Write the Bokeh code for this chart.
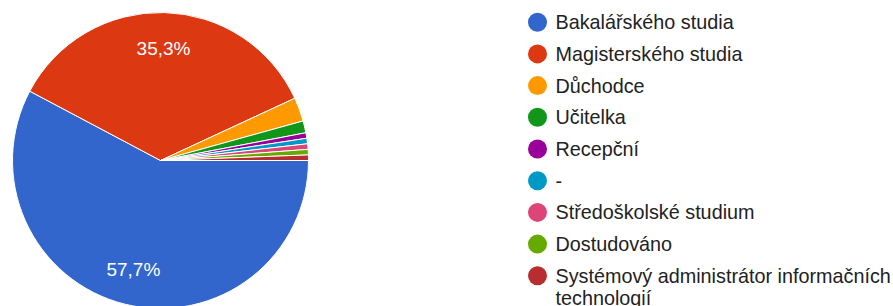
import math
from bokeh.plotting import figure
from bokeh.models import Range1d, ColumnDataSource
from bokeh.core.properties import value
from bokeh.embed import file_html
from bokeh.resources import INLINE

categories = ["Bakalářského studia", "Magisterského studia", "Důchodce", "Učitelka",
              "Recepční", "-", "Středoškolské studium", "Dostudováno",
              "Systémový administrátor informačních technologií"]
legend_lines = [["Bakalářského studia"], ["Magisterského studia"], ["Důchodce"], ["Učitelka"],
                ["Recepční"], ["-"], ["Středoškolské studium"], ["Dostudováno"],
                ["Systémový administrátor informačních", "technologií"]]
percent = [57.7, 35.3, 2.6, 1.3, 0.6, 0.6, 0.6, 0.6, 0.6]
colors = ["#3366cc", "#dc3912", "#ff9900", "#109618", "#990099",
          "#0099c6", "#dd4477", "#66aa00", "#b82e2e"]

W, H = 893, 306
p = figure(width=W, height=H, output_backend="svg", toolbar_location=None,
           x_range=Range1d(0, W), y_range=Range1d(-H, 0),
           min_border=0)
p.axis.visible = False
p.grid.visible = False
p.outline_line_color = None
p.background_fill_color = "white"
p.border_fill_color = "white"

cx, cy, R = 160, -160, 148
total = sum(percent)
starts, ends, lx, ly, labels = [], [], [], [], []
cum = 0.0
for v in percent:
    a0 = cum / total * 2 * math.pi
    cum += v
    a1 = cum / total * 2 * math.pi
    # clockwise from 3 o'clock
    starts.append(-a1)
    ends.append(-a0)
    if v >= 5:
        mid = -(a0 + a1) / 2
        lx.append(cx + 0.76 * R * math.cos(mid))
        ly.append(cy + 0.76 * R * math.sin(mid))
        labels.append(("%.1f%%" % v).replace(".", ","))

src = ColumnDataSource(dict(start=starts, end=ends, color=colors))
p.wedge(x=cx, y=cy, radius=R, start_angle="start", end_angle="end",
        fill_color="color", line_color="white", line_width=1, source=src)

p.text(x=lx, y=ly, text=labels, text_color="white", text_font=value("Liberation Sans"),
       text_font_size="19px", text_align="center", text_baseline="middle")

# legend
lgx, lgy0, step = 537, -21.7, 31.7
ys = [lgy0 - i * step for i in range(len(categories))]
p.scatter(x=[lgx] * len(categories), y=ys, size=19, fill_color=colors, line_color=None)
tx, ty, tt = [], [], []
for i, lines in enumerate(legend_lines):
    for j, t in enumerate(lines):
        tx.append(555)
        ty.append(ys[i] - j * 22.5)
        tt.append(t)
p.text(x=tx, y=ty, text=tt, text_color="#222222", text_font=value("Liberation Sans"),
       text_font_size="19.8px", text_align="left", text_baseline="middle")

open("out.html", "w").write(file_html(p, INLINE))
